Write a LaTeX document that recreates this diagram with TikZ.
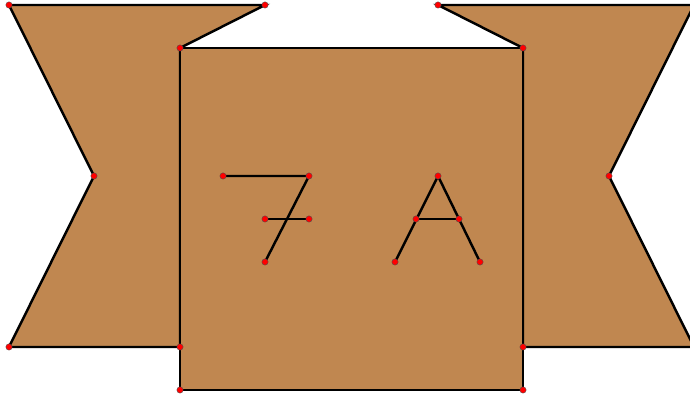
\documentclass[tikz,border=0pt]{standalone}
\usepackage{tikz}
\usetikzlibrary{positioning}
\definecolor{leather}{RGB}{192,135,80}

\begin{document}
\begin{tikzpicture}[
  x=0.02cm, y=-0.02cm,
  band/.style={draw, fill=leather, line width=1.4pt, line join=miter},
  stroke/.style={draw, line width=1.4pt, line cap=round},
  pin/.style={circle, fill=red, draw=black!70, line width=0.2pt, inner sep=0pt, minimum size=3.6pt}
]
  \useasboundingbox (0,0) rectangle (690,394);
  \clip (0,0) rectangle (690,394);

  % ribbon ends
  \coordinate (lt) at (9,5);   \coordinate (lr) at (265,5);
  \coordinate (ln) at (94,176); \coordinate (lb) at (9,347);
  \coordinate (rt) at (694,5);  \coordinate (rl) at (438,5);
  \coordinate (rn) at (609,176); \coordinate (rb) at (694,347);

  % square
  \coordinate (sa) at (180,48);  \coordinate (sb) at (523,48);
  \coordinate (sc) at (523,390); \coordinate (sd) at (180,390);
  \coordinate (sl) at (180,347); \coordinate (sr) at (523,347);

  \path[band] (lt) -- (lr) -- (sa) -- (sl) -- (lb) -- (ln) -- cycle;
  \path[band] (rl) -- (rt) -- (rn) -- (rb) -- (sr) -- (sb) -- cycle;
  \path[band] (sa) -- (sb) -- (sc) -- (sd) -- cycle;

  % letter 7
  \coordinate (s1) at (223,176); \coordinate (s2) at (309,176);
  \coordinate (s3) at (265,262); \coordinate (s4) at (265,219);
  \coordinate (s5) at (309,219);
  \draw[stroke] (s1) -- (s2) -- (s3);
  \draw[stroke] (s4) -- (s5);

  % letter A
  \coordinate (a1) at (395,262); \coordinate (a2) at (438,176);
  \coordinate (a3) at (480,262); \coordinate (a4) at (416,219);
  \coordinate (a5) at (459,219);
  \draw[stroke] (a1) -- (a2) -- (a3);
  \draw[stroke] (a4) -- (a5);

  \foreach \p in {lt,lr,ln,lb,rl,rn,sa,sb,sc,sd,sl,sr,s1,s2,s3,s4,s5,a1,a2,a3,a4,a5}
    \node[pin] at (\p) {};
\end{tikzpicture}
\end{document}
